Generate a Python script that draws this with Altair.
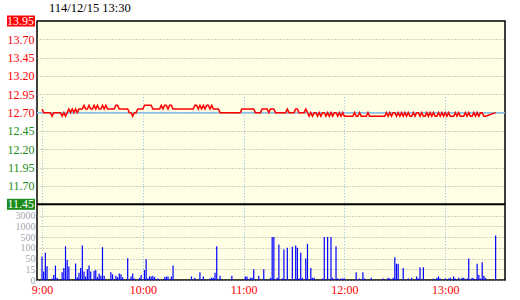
import altair as alt
import pandas as pd

# ---------------- data ----------------
title_text = "114/12/15 13:30"
price_ticks = [11.45, 11.70, 11.95, 12.20, 12.45, 12.70, 12.95, 13.20, 13.45, 13.70, 13.95]
ref_price = 12.70
vol_ticks = [0, 15, 50, 100, 500, 1000, 3000]
hour_ticks = [0, 60, 120, 180, 240]          # minutes after 9:00
hour_labels = ["9:00", "10:00", "11:00", "12:00", "13:00"]

# one price per minute from 9:00 (None = no trade, closing call 13:25-13:29)
price = [
    12.75, 12.70, 12.70, 12.70, 12.70, 12.70, 12.65, 12.70, 12.70, 12.70,
    12.70, 12.70, 12.65, 12.70, 12.65, 12.70, 12.75, 12.70, 12.75, 12.70,
    12.75, 12.70, 12.75, 12.75, 12.75, 12.80, 12.75, 12.75, 12.80, 12.75,
    12.75, 12.80, 12.75, 12.80, 12.75, 12.75, 12.80, 12.75, 12.80, 12.75,
    12.75, 12.75, 12.75, 12.75, 12.80, 12.80, 12.75, 12.75, 12.75, 12.75,
    12.75, 12.75, 12.70, 12.70, 12.65, 12.70, 12.70, 12.75, 12.75, 12.75,
    12.75, 12.80, 12.80, 12.80, 12.80, 12.80, 12.75, 12.75, 12.75, 12.75,
    12.75, 12.80, 12.75, 12.80, 12.80, 12.75, 12.80, 12.80, 12.75, 12.75,
    12.75, 12.75, 12.75, 12.75, 12.75, 12.75, 12.75, 12.75, 12.75, 12.75,
    12.75, 12.80, 12.80, 12.75, 12.80, 12.75, 12.80, 12.75, 12.80, 12.80,
    12.75, 12.80, 12.75, 12.75, 12.75, 12.75, 12.70, 12.70, 12.70, 12.70,
    12.70, 12.70, 12.70, 12.70, 12.70, 12.70, 12.70, 12.70, 12.70, 12.75,
    12.75, 12.75, 12.75, 12.75, 12.75, 12.75, 12.75, 12.70, 12.70, 12.70,
    12.70, 12.75, 12.75, 12.75, 12.75, 12.70, 12.75, 12.75, 12.75, 12.70,
    12.70, 12.70, 12.70, 12.70, 12.70, 12.70, 12.75, 12.70, 12.70, 12.70,
    12.70, 12.75, 12.75, 12.70, 12.70, 12.70, 12.70, 12.75, 12.70, 12.65,
    12.70, 12.65, 12.70, 12.70, 12.65, 12.70, 12.65, 12.70, 12.70, 12.65,
    12.70, 12.65, 12.70, 12.65, 12.70, 12.70, 12.65, 12.70, 12.65, 12.70,
    12.65, 12.65, 12.65, 12.65, 12.65, 12.65, 12.70, 12.65, 12.65, 12.70,
    12.65, 12.65, 12.65, 12.65, 12.70, 12.65, 12.65, 12.65, 12.65, 12.65,
    12.65, 12.65, 12.65, 12.65, 12.65, 12.70, 12.65, 12.70, 12.65, 12.70,
    12.70, 12.65, 12.70, 12.65, 12.70, 12.65, 12.70, 12.65, 12.70, 12.65,
    12.65, 12.70, 12.65, 12.70, 12.70, 12.65, 12.70, 12.65, 12.65, 12.70,
    12.65, 12.70, 12.65, 12.70, 12.65, 12.65, 12.70, 12.65, 12.70, 12.65,
    12.70, 12.65, 12.70, 12.65, 12.65, 12.65, 12.70, 12.65, 12.70, 12.65,
    12.65, 12.65, 12.70, 12.65, 12.70, 12.65, 12.65, 12.70, 12.65, 12.70,
    12.65, 12.70, 12.70, 12.65, 12.65, None, None, None, None, None,
    12.70,
]

# traded lots per minute (minute index after 9:00, lots)
vol_minutes = [
    0, 1, 2, 3, 6, 7, 8, 9, 12, 13, 14, 15, 16, 20, 21, 22, 23, 24, 25, 26,
    27, 28, 29, 31, 32, 33, 34, 35, 36, 37, 41, 42, 44, 45, 46, 47, 48, 51, 53, 54,
    55, 58, 59, 61, 62, 63, 64, 65, 66, 67, 69, 73, 74, 75, 77, 78, 89, 91, 94, 96,
    100, 101, 102, 103, 104, 106, 113, 121, 122, 124, 125, 126, 129, 132, 136, 137, 138, 140, 141, 143,
    144, 146, 149, 151, 152, 153, 154, 155, 157, 158, 160, 161, 162, 167, 168, 170, 172, 173, 175, 176,
    178, 179, 180, 187, 189, 191, 192, 196, 203, 206, 207, 209, 210, 211, 212, 215, 218, 220, 223, 224,
    225, 227, 233, 235, 236, 237, 240, 242, 243, 245, 246, 248, 250, 251, 253, 254, 256, 257, 259, 260,
    261, 262, 263, 264, 270,
]
vol_lots = [
    58, 12, 77, 25, 2, 7, 27, 3, 11, 19, 160, 45, 24, 34, 4, 10, 19, 187, 12, 5,
    15, 27, 12, 13, 14, 4, 9, 6, 125, 6, 11, 8, 6, 4, 9, 8, 4, 51, 5, 9,
    2, 3, 7, 14, 48, 2, 5, 5, 6, 4, 2, 4, 5, 5, 5, 27, 5, 3, 11, 5,
    2, 3, 3, 10, 162, 6, 6, 5, 5, 3, 3, 15, 6, 15, 3, 500, 500, 3, 225, 2,
    92, 100, 137, 187, 100, 2, 77, 3, 50, 250, 19, 3, 3, 2, 500, 500, 500, 3, 162, 2,
    2, 2, 2, 11, 2, 11, 2, 3, 2, 3, 2, 3, 56, 33, 33, 19, 2, 3, 5, 2,
    22, 22, 2, 3, 5, 2, 2, 2, 3, 5, 2, 3, 3, 3, 2, 50, 3, 2, 33, 7,
    2, 38, 6, 3, 575,
]

# ---------------- tables ----------------
df_price = pd.DataFrame({"minute": list(range(len(price))), "price": price}).dropna()
df_vol = pd.DataFrame({"minute": vol_minutes, "volume": vol_lots})
df_ref = pd.DataFrame({"p": [ref_price]})
df_base = pd.DataFrame({"p": [price_ticks[0]]})
df_ends = pd.DataFrame({
    "p": [price_ticks[-1], price_ticks[0]],
    "lo": [price_ticks[-1] - 0.075, price_ticks[0] - 0.075],
    "hi": [price_ticks[-1] + 0.075, price_ticks[0] + 0.075],
    "label": [f"{price_ticks[-1]:.2f}", f"{price_ticks[0]:.2f}"],
    "kind": ["up", "down"],
})
df_title = pd.DataFrame({"t": [title_text]})

# ---------------- geometry / style ----------------
W, H = 468, 259
PRICE_H = 183.3
VOL_STEP = 10.72

RED = "#FF0000"
GREEN = "#1A8C1A"
FONT = "Liberation Serif"

label_expr = " : ".join(
    f"datum.value == {v} ? '{lab}'" for v, lab in zip(hour_ticks[:-1], hour_labels[:-1])
) + f" : '{hour_labels[-1]}'"

x_scale = alt.Scale(domain=[0, 272.6], nice=False, zero=False)
x_axis = alt.Axis(
    values=hour_ticks, labelExpr=label_expr, title=None, grid=True,
    gridColor="#94BCE0", gridDash=[1, 2], gridWidth=1, ticks=False, domain=False,
    labelColor=RED, labelFont=FONT, labelFontSize=12, labelPadding=4,
)
x_enc = alt.X("minute:Q", scale=x_scale, axis=x_axis)

price_scale = alt.Scale(domain=[price_ticks[0], price_ticks[-1]], range=[PRICE_H, 0], nice=False, zero=False)
price_axis = alt.Axis(
    values=price_ticks[1:-1], format=".2f", title=None, orient="left",
    grid=True, gridColor="#A0A0A0", gridDash=[1, 2], ticks=False, domain=False,
    labelFont=FONT, labelFontSize=12, labelPadding=3, labelOverlap=False,
    labelColor=alt.condition("datum.value >= 12.69", alt.value(RED), alt.value(GREEN)),
)

vol_scale = alt.Scale(domain=vol_ticks, range=[H - i * VOL_STEP for i in range(len(vol_ticks))],
                      nice=False, zero=False)
vol_axis = alt.Axis(
    values=vol_ticks, format="d", title=None, orient="left",
    grid=True, gridColor="#A0A0A0", gridDash=[1, 2], ticks=False, domain=False,
    labelFont=FONT, labelFontSize=10, labelPadding=2, labelColor="#A2A8B0", labelOverlap=False,
)

def py(field):
    return alt.Y(field, scale=price_scale, axis=price_axis)

# ---------------- layers ----------------
ref_rule = alt.Chart(df_ref).mark_rule(color="#88C0E8", strokeWidth=1.5).encode(y=py("p:Q"))
line = alt.Chart(df_price).mark_line(color=RED, strokeWidth=1.5).encode(x=x_enc, y=py("price:Q"))
base_rule = alt.Chart(df_base).mark_rule(color="black", strokeWidth=2).encode(y=py("p:Q"))
end_boxes = alt.Chart(df_ends).mark_rect().encode(
    x=alt.value(-30), x2=alt.value(-2),
    y=py("hi:Q"), y2="lo:Q",
    color=alt.Color("kind:N", scale=alt.Scale(domain=["up", "down"], range=[RED, GREEN]), legend=None),
)
end_text = alt.Chart(df_ends).mark_text(
    align="right", baseline="middle", font=FONT, fontSize=12, color="white"
).encode(x=alt.value(-3), y=py("p:Q"), text="label:N")

title_mark = alt.Chart(df_title).mark_text(
    align="left", baseline="alphabetic", font=FONT, fontSize=12.5, color="black"
).encode(x=alt.value(12), y=alt.value(-9), text="t:N")

price_layer = alt.layer(ref_rule, line, base_rule, end_boxes, end_text, title_mark)

bars = alt.Chart(df_vol).mark_bar(color="#0000FF", size=1.2).encode(
    x=x_enc, y=alt.Y("volume:Q", scale=vol_scale, axis=vol_axis)
)

chart = alt.layer(price_layer, bars).resolve_scale(y="independent").properties(
    width=W, height=H,
    padding={"left": 37, "top": 21, "right": 15, "bottom": 20},
    autosize=alt.AutoSizeParams(type="none"),
    background="white",
).configure_view(
    fill="#FFFFE6", stroke="black", strokeWidth=1.5
).configure_axisY(labelOverlap=False)

chart.save("out.html", embed_options={"renderer": "svg", "actions": False})
